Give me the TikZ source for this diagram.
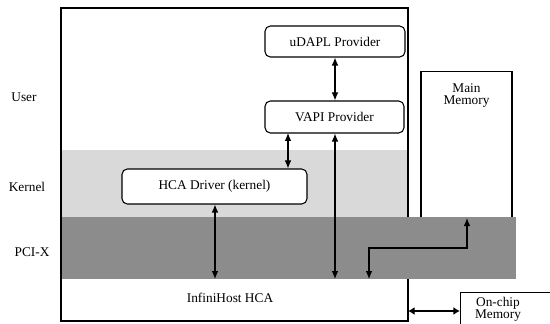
\documentclass[tikz,border=0pt]{standalone}
\usepackage{fontspec}
\setmainfont{Liberation Serif}
\usetikzlibrary{arrows.meta,positioning}
\tikzset{
  prov/.style={draw, thick, rounded corners=4pt, fill=white, inner sep=0pt},
  memo/.style={draw, thick, fill=white, inner sep=0pt},
  biarr/.style={thick, {Latex[length=6pt,width=5pt]}-{Latex[length=6pt,width=5pt]}},
  lbl/.style={font=\fontsize{10}{9}\selectfont, align=center, inner sep=0pt}
}
\definecolor{kernelgray}{HTML}{D9D9D9}
\definecolor{pcigray}{HTML}{8C8C8C}
\begin{document}
\begin{tikzpicture}[x=0.75pt,y=-0.75pt]
  \useasboundingbox (0,0) rectangle (550,324);
  \clip (0,0) rectangle (550,324);
% bands
  \fill [kernelgray] (61,150) rectangle (408,217);
  \node[memo, minimum width=68.25pt, minimum height=109.5pt, anchor=north] (mem) at (466.5,71) {};
  \fill [pcigray] (61,217) rectangle (516,279);
  \draw [thick] (408,217) -- (408,8) -- (61,8) -- (61,321) -- (408,321) -- (408,279);
% layer names
  \node[lbl] (user) at (24,97) {User};
  \node[lbl] (kern) at (27,187) {Kernel};
  \node[lbl] (pcix) at (32,252) {PCI-X};
% boxes
  \node[prov, minimum width=105pt, minimum height=23.25pt] (udapl) at (335,41.5) {uDAPL Provider};
  \node[prov, minimum width=104.25pt, minimum height=24pt] (vapi) at (334.5,117) {VAPI Provider};
  \node[prov, minimum width=138.75pt, minimum height=26.25pt] (drv) at (214.5,186.5) {HCA Driver (kernel)};
  \node[lbl, below=9pt of mem.north] (memtxt) {Main\\Memory};
  \node[lbl] (hca) at (230,298) {InfiniHost HCA};
  \node[memo, minimum width=75pt, minimum height=30pt, anchor=north west] (chip) at (460,292) {};
  \node[lbl] (chiptxt) at (498,309) {On-chip\\Memory};
% ports on the HCA
  \coordinate (hcaA) at (215,279);
  \coordinate (hcaB) at (335,279);
  \coordinate (hcaC) at (369,279);
  \coordinate (bend) at (369,248);
  \coordinate (vapiL) at (288,133);
  \coordinate (hcaR) at (408,311);
% arrows
  \draw [biarr] (udapl.south) -- (udapl.south |- vapi.north);
  \draw [biarr] (vapiL) -- (vapiL |- drv.north);
  \draw [biarr] (vapi.south -| hcaB) -- (hcaB);
  \draw [biarr] (drv.south -| hcaA) -- (hcaA);
  \draw [biarr] (hcaC) -- (bend) -| (mem.south -| 467,0);
  \draw [line width=1.8pt, {Latex[length=5pt,width=6pt]}-{Latex[length=5pt,width=6pt]}] (hcaR) -- (hcaR -| chip.west);
\end{tikzpicture}
\end{document}
